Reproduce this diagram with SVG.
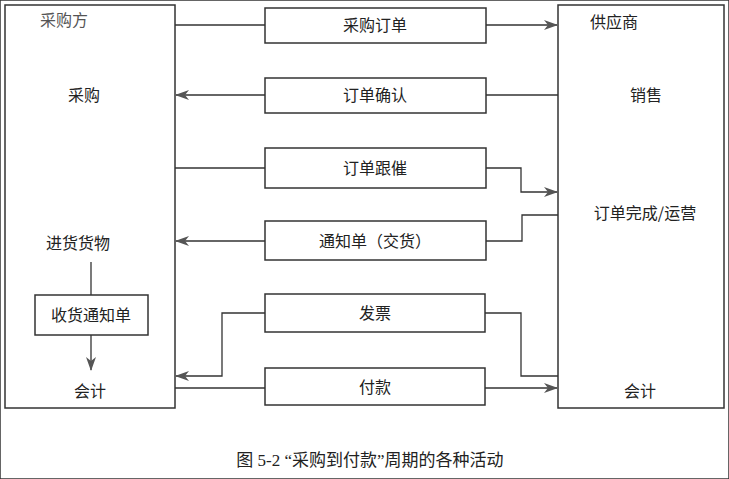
<svg xmlns="http://www.w3.org/2000/svg" width="729" height="479" viewBox="0 0 729 479">
<defs><marker id="a" markerWidth="14" markerHeight="10" refX="13" refY="5" orient="auto" markerUnits="userSpaceOnUse"><path d="M0,0 L14,5 L0,10 L4,5 Z" fill="#555"/></marker>
<style>rect{fill:#fff;stroke:#333;stroke-width:1.5}.c path{fill:none;stroke:#333;stroke-width:1.3}text{font-family:"Noto Sans CJK SC",sans-serif;font-size:16px;fill:#222}.m{text-anchor:middle}.cap{font-family:"Liberation Serif","Noto Sans CJK SC",serif;font-size:17px}</style></defs>
<rect fill="#fff" stroke="none" width="729" height="479"/>
<g id="buyer"><rect x="5" y="5" width="170" height="403"/><text x="40" y="26" style="fill:#555">采购方</text><text x="68" y="101">采购</text><text x="46" y="249">进货货物</text><text x="90" y="397" class="m">会计</text></g>
<g id="receipt"><rect x="35" y="295" width="113" height="40"/><text x="91" y="321" class="m">收货通知单</text></g>
<g id="supplier"><rect x="558" y="5" width="166" height="403"/><text x="590" y="28">供应商</text><text x="630" y="101">销售</text><text x="645" y="219" class="m">订单完成/运营</text><text x="640" y="397" class="m">会计</text></g>
<g id="po"><rect x="265" y="8" width="221" height="35"/><text x="375" y="31" class="m">采购订单</text></g>
<g id="ack"><rect x="265" y="78" width="221" height="35"/><text x="375" y="101" class="m">订单确认</text></g>
<g id="follow"><rect x="265" y="148" width="221" height="40"/><text x="375" y="174" class="m">订单跟催</text></g>
<g id="notice"><rect x="265" y="221" width="221" height="39"/><text x="375" y="247" class="m">通知单（交货）</text></g>
<g id="invoice"><rect x="265" y="294" width="220" height="38"/><text x="375" y="319" class="m">发票</text></g>
<g id="pay"><rect x="265" y="368" width="220" height="37"/><text x="375" y="393" class="m">付款</text></g>
<g class="c">
<path d="M175,25H265"/><path d="M486,25H557" marker-end="url(#a)"/>
<path d="M558,95H486"/><path d="M265,95H176" marker-end="url(#a)"/>
<path d="M175,168H265"/><path d="M486,168H521V192H557" marker-end="url(#a)"/>
<path d="M558,215H522V241H486"/><path d="M265,241H176" marker-end="url(#a)"/>
<path d="M265,313H222V376H176" marker-end="url(#a)"/><path d="M485,313H521V376H558"/>
<path d="M175,388H265"/><path d="M485,388H557" marker-end="url(#a)"/>
<path d="M91,262V295"/><path d="M91,335V370" marker-end="url(#a)"/>
</g>
<text x="370" y="466" class="m cap">图 5-2 “采购到付款”周期的各种活动</text>
</svg>
